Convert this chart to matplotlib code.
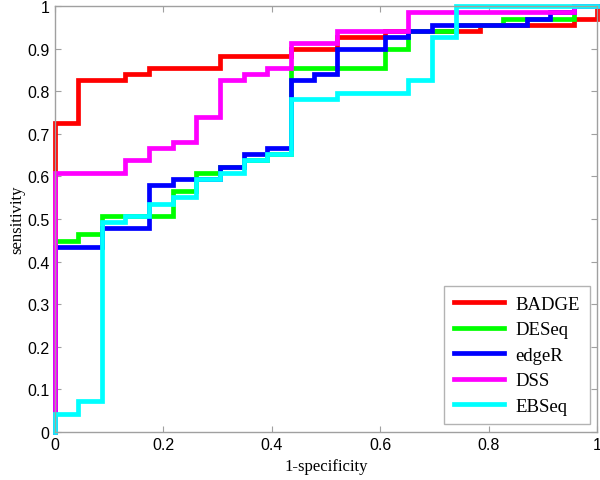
import matplotlib
matplotlib.use("Agg")
import matplotlib.pyplot as plt

# ROC step curves (1-specificity breakpoints, sensitivity levels)
badge_x = [0, 0, 0.043, 0.13, 0.174, 0.304, 0.435, 0.52, 0.609, 0.784, 0.957, 1.0]
badge_y = [0, 0.725, 0.826, 0.841, 0.855, 0.884, 0.899, 0.928, 0.942, 0.957, 0.971, 1.0]

deseq_x = [0, 0, 0.043, 0.087, 0.217, 0.26, 0.304, 0.348, 0.391, 0.435, 0.609, 0.652, 0.739, 0.826, 0.957]
deseq_y = [0, 0.449, 0.464, 0.507, 0.565, 0.609, 0.623, 0.638, 0.652, 0.855, 0.899, 0.942, 0.957, 0.971, 1.0]

edger_x = [0, 0, 0.087, 0.174, 0.217, 0.304, 0.348, 0.391, 0.435, 0.478, 0.52, 0.609, 0.652, 0.696, 0.870, 0.913, 0.957]
edger_y = [0, 0.435, 0.478, 0.580, 0.594, 0.623, 0.652, 0.667, 0.826, 0.841, 0.899, 0.928, 0.942, 0.957, 0.971, 0.986, 1.0]

dss_x = [0, 0, 0.13, 0.174, 0.217, 0.26, 0.304, 0.348, 0.391, 0.435, 0.52, 0.652, 0.957]
dss_y = [0, 0.609, 0.638, 0.667, 0.681, 0.739, 0.826, 0.841, 0.855, 0.913, 0.942, 0.986, 1.0]

ebseq_x = [0, 0, 0.043, 0.087, 0.13, 0.174, 0.217, 0.26, 0.304, 0.348, 0.391, 0.435, 0.52, 0.652, 0.696, 0.739]
ebseq_y = [0, 0.043, 0.072, 0.493, 0.507, 0.536, 0.551, 0.594, 0.609, 0.638, 0.652, 0.783, 0.797, 0.826, 0.928, 1.0]

names = ["BADGE", "DESeq", "edgeR", "DSS", "EBSeq"]
colours = ["#ff0000", "#00ff00", "#0000ff", "#ff00ff", "#00ffff"]

fig = plt.figure(figsize=(6, 4.81), dpi=100)
ax = fig.add_axes([0.0917, 0.1, 0.9033, 0.885])

curves = [(badge_x, badge_y), (deseq_x, deseq_y), (edger_x, edger_y),
          (dss_x, dss_y), (ebseq_x, ebseq_y)]
for (xs, ys), name, colour in zip(curves, names, colours):
    xs = xs + [1.0]
    ys = ys + [ys[-1]]
    ax.step(xs, ys, where="post", color=colour, lw=3.4, label=name,
            solid_joinstyle="miter", clip_on=False)

ax.set_xlim(0, 1)
ax.set_ylim(0, 1)
ax.set_xticks([0, 0.2, 0.4, 0.6, 0.8, 1])
ax.set_xticklabels(["0", "0.2", "0.4", "0.6", "0.8", "1"])
ax.set_yticks([i / 10 for i in range(11)])
ax.set_yticklabels(["0"] + ["0.%d" % i for i in range(1, 10)] + ["1"])

for s in ax.spines.values():
    s.set_color("#a0a0a0")
    s.set_linewidth(1.0)
ax.tick_params(direction="in", length=4, color="#a0a0a0", top=True, right=True,
               labelsize=11.5, pad=4)
for lab in ax.get_xticklabels() + ax.get_yticklabels():
    lab.set_fontfamily("Liberation Sans")

ax.set_xlabel("1-specificity", family="Liberation Serif", fontsize=12, labelpad=4)
ax.set_ylabel("sensitivity", family="Liberation Serif", fontsize=12, labelpad=1)

leg = ax.legend(loc="lower right", prop={"family": "Liberation Serif", "size": 13.5},
                frameon=True, fancybox=False, edgecolor="#a0a0a0",
                handlelength=2.7, labelspacing=0.45, borderaxespad=0.4,
                borderpad=0.5, handletextpad=0.6)
leg.get_frame().set_linewidth(1.0)

fig.savefig("out.png", dpi=100)
